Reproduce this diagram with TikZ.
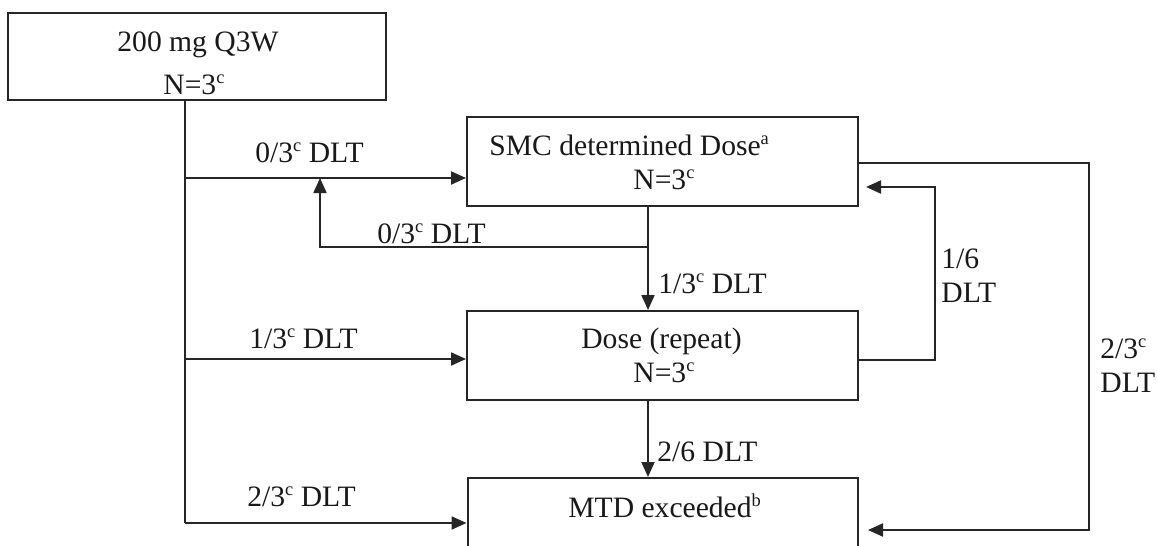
\documentclass[tikz,border=0pt]{standalone}
\usepackage{fontspec}
\setmainfont{Liberation Serif}
\usetikzlibrary{arrows.meta}
\newcommand\sups[1]{\raisebox{5.3pt}{\fontsize{9.2}{9}\selectfont #1}}
\begin{document}
\begin{tikzpicture}[x=0.5pt,y=-0.5pt,
  box/.style={draw=black!85,line width=1pt,rectangle,inner sep=0pt},
  txt/.style={inner sep=0pt,anchor=base west,font=\fontsize{14.8}{17}\selectfont,text=black!90},
  ln/.style={draw=black!85,line width=1pt},
  arr/.style={ln,-{Triangle[length=7.5pt,width=6.5pt]}}]
\useasboundingbox (0,0) rectangle (1157,546);
\fill[white] (0,0) rectangle (1157,546);
\clip (0,0) rectangle (1157,546);
% boxes
\node[box,minimum width=189pt,minimum height=43.5pt] (b1) at (197,56.5) {};
\node[box,minimum width=195.5pt,minimum height=44.5pt] (b2) at (662.5,161.5) {};
\node[box,minimum width=195.5pt,minimum height=44.5pt] (b3) at (662.5,355.5) {};
\node[box,minimum width=195pt,minimum height=50pt] (b4) at (662.5,528) {};
% box texts
\node[txt] (t1a) at (117,51) {200 mg Q3W};
\node[txt] (t1b) at (163,94) {N=3\sups{c}};
\node[txt] (t2a) at (489,155) {SMC determined Dose\sups{a}};
\node[txt] (t2b) at (633,189) {N=3\sups{c}};
\node[txt,anchor=base east] (t3a) at (742,348) {Dose (repeat)};
\node[txt] (t3b) at (633,382) {N=3\sups{c}};
\node[txt] (t4) at (568,517) {MTD exceeded\sups{b}};
% labels
\node[txt] (l1) at (255,162) {0/3\sups{c} DLT};
\node[txt] (l2) at (377,243) {0/3\sups{c} DLT};
\node[txt] (l3) at (658,293) {1/3\sups{c} DLT};
\node[txt] (l4) at (249,348) {1/3\sups{c} DLT};
\node[txt] (l5) at (657,461) {2/6 DLT};
\node[txt] (l6) at (247,506) {2/3\sups{c} DLT};
\node[txt] (l7a) at (941,268) {1/6};
\node[txt] (l7b) at (941,302) {DLT};
\node[txt] (l8a) at (1100,358) {2/3\sups{c}};
\node[txt] (l8b) at (1100,392) {DLT};
% junction coordinates
\coordinate (j0) at (185,100);
\coordinate (j1) at (185,178);
\coordinate (j2) at (185,359);
\coordinate (j3) at (185,523);
\coordinate (xv) at (648,0);
\coordinate (k1) at (648,247);
\coordinate (k2) at (320,247);
\coordinate (k3) at (320,178);
\coordinate (r1) at (935,360);
\coordinate (r2) at (935,187);
\coordinate (r3) at (866,187);
\coordinate (s1) at (1089,163);
\coordinate (s2) at (1089,530);
\coordinate (s3) at (868,530);
% connectors
\draw[ln] (j0) -- (j3);
\draw[arr] (j1) -- (j1 -| b2.west);
\draw[arr] (j2) -- (j2 -| b3.west);
\draw[arr] (j3) -- (j3 -| b4.west);
\draw[arr] (b2.south -| xv) -- (b3.north -| xv);
\draw[arr] (b3.south -| xv) -- (b4.north -| xv);
\draw[arr] (k1) -- (k2) -- (k3);
\draw[arr] (r1 -| b3.east) -- (r1) -- (r2) -- (r3);
\draw[arr] (s1 -| b2.east) -- (s1) -- (s2) -- (s3);
\end{tikzpicture}
\end{document}
